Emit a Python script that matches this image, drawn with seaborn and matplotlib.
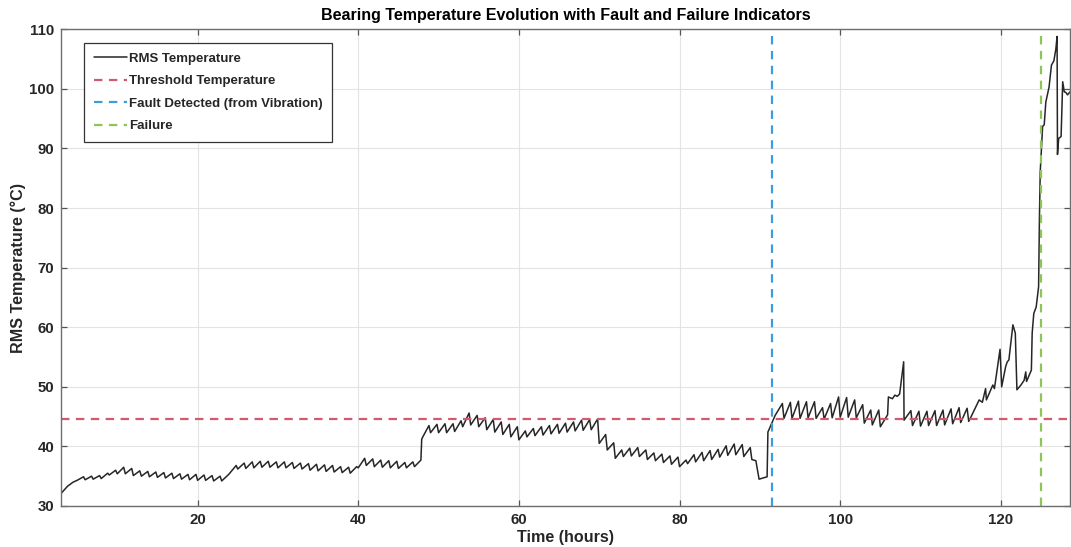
import matplotlib
matplotlib.use("Agg")
import matplotlib.pyplot as plt
import seaborn as sns
import pandas as pd

# ---------------- data ----------------
time_h = [
    3.0, 3.8, 4.5, 5.0, 5.8, 6.0, 6.8, 7.0, 7.8, 8.0, 8.8, 9.0, 9.8, 10.0, 10.8,
    11.0, 11.8, 12.0, 12.8, 13.0, 13.8, 14.0, 14.8, 15.0, 15.8, 16.0, 16.8, 17.0,
    17.8, 18.0, 18.8, 19.0, 19.8, 20.0, 20.8, 21.0, 21.8, 22.0, 22.8, 23.0, 23.8,
    24.0, 24.8, 25.0, 25.8, 26.0, 26.8, 27.0, 27.8, 28.0, 28.8, 29.0, 29.8, 30.0,
    30.8, 31.0, 31.8, 32.0, 32.8, 33.0, 33.8, 34.0, 34.8, 35.0, 35.8, 36.0, 36.8,
    37.0, 37.8, 38.0, 38.8, 39.0, 39.8, 40.0, 40.8, 41.0, 41.8, 42.0, 42.8, 43.0,
    43.8, 44.0, 44.8, 45.0, 45.8, 46.0, 46.8, 47.0, 47.8, 47.9, 48.0, 48.8, 49.0,
    49.8, 50.0, 50.8, 51.0, 51.8, 52.0, 52.8, 53.0, 53.8, 54.0, 54.8, 55.0, 55.8,
    56.0, 56.8, 57.0, 57.8, 58.0, 58.8, 59.0, 59.8, 60.0, 60.8, 61.0, 61.8, 62.0,
    62.8, 63.0, 63.8, 64.0, 64.8, 65.0, 65.8, 66.0, 66.8, 67.0, 67.8, 68.0, 68.8,
    69.0, 69.8, 70.0, 70.8, 71.0, 71.8, 72.0, 72.8, 73.0, 73.8, 74.0, 74.8, 75.0,
    75.8, 76.0, 76.8, 77.0, 77.8, 78.0, 78.8, 79.0, 79.8, 80.0, 80.8, 81.0, 81.8,
    82.0, 82.8, 83.0, 83.8, 84.0, 84.8, 85.0, 85.8, 86.0, 86.8, 87.0, 87.8, 88.0,
    88.8, 89.0, 89.5, 89.9, 90.9, 91.0, 91.9, 92.8, 93.0, 93.8, 94.0, 94.8, 95.0,
    95.8, 96.0, 96.8, 97.0, 97.8, 98.0, 98.8, 99.0, 99.8, 100.0, 100.8, 101.0,
    101.8, 102.0, 102.8, 103.0, 103.8, 104.0, 104.8, 105.0, 105.9, 106.0, 106.5,
    106.8, 107.1, 107.4, 107.9, 107.95, 108.8, 109.0, 109.8, 110.0, 110.8, 111.0,
    111.8, 112.0, 112.8, 113.0, 113.8, 114.0, 114.8, 115.0, 115.8, 116.0, 116.3,
    117.3, 117.7, 118.1, 118.2, 119.0, 119.2, 119.9, 120.1, 120.6, 120.8, 121.0,
    121.5, 121.8, 122.0, 122.5, 122.9, 123.1, 123.2, 123.8, 123.9, 124.1, 124.4,
    124.7, 124.8, 124.9, 125.0, 125.2, 125.4, 125.6, 126.0, 126.3, 126.6, 126.85,
    127.0, 127.05, 127.2, 127.5, 127.7, 127.9, 128.1, 128.3, 128.6,
]
temp_c = [
    32.1, 33.3, 34.0, 34.3, 34.9, 34.4, 35.0, 34.5, 35.1, 34.6, 35.5, 35.2, 36.0, 35.4, 36.5,
    35.4, 36.3, 35.1, 35.9, 35.0, 35.8, 34.9, 35.7, 34.8, 35.6, 34.7, 35.5, 34.6,
    35.4, 34.5, 35.3, 34.4, 35.3, 34.3, 35.2, 34.3, 35.1, 34.2, 35.0, 34.2, 35.2,
    35.5, 36.8, 36.2, 37.2, 36.3, 37.4, 36.4, 37.5, 36.5, 37.5, 36.5, 37.4, 36.4,
    37.4, 36.4, 37.3, 36.3, 37.2, 36.2, 37.1, 36.0, 37.0, 35.9, 36.9, 35.8, 36.8,
    35.7, 36.6, 35.6, 36.5, 35.5, 36.6, 36.4, 38.0, 36.8, 37.9, 36.6, 37.7, 36.5,
    37.6, 36.4, 37.5, 36.3, 37.3, 36.4, 37.4, 36.6, 37.7, 41.2, 41.5, 43.5, 42.3,
    43.7, 42.3, 43.8, 42.3, 43.8, 42.5, 44.3, 43.3, 45.6, 43.6, 45.2, 43.3, 44.8,
    42.8, 44.5, 42.4, 44.1, 42.0, 43.7, 41.6, 43.3, 41.1, 42.6, 41.6, 43.0, 41.8,
    43.3, 41.9, 43.5, 42.1, 43.7, 42.2, 43.9, 42.4, 44.1, 42.6, 44.4, 42.7, 44.5,
    42.8, 44.6, 40.5, 42.0, 39.4, 40.6, 38.0, 39.4, 38.3, 39.7, 38.4, 39.8, 38.3,
    39.4, 37.8, 38.9, 37.6, 38.7, 37.3, 38.4, 37.0, 38.2, 36.6, 37.7, 37.1, 38.6,
    37.4, 39.0, 37.6, 39.3, 37.8, 39.5, 38.2, 40.1, 38.5, 40.4, 38.6, 40.3, 38.3,
    39.8, 37.8, 37.6, 34.5, 34.9, 42.4, 45.2, 47.2, 44.7, 47.4, 44.7, 47.6, 44.7,
    47.5, 44.8, 47.5, 44.7, 46.5, 44.6, 47.2, 44.8, 48.3, 44.9, 48.2, 44.9,
    47.8, 44.8, 47.0, 43.9, 46.1, 43.6, 46.1, 43.3, 45.3, 48.3, 48.0,
    48.6, 48.4, 48.8, 54.2, 44.4, 46.0, 43.5, 45.9, 43.4, 45.9, 43.5,
    46.0, 43.5, 46.1, 43.6, 46.3, 43.8, 46.5, 44.0, 46.4, 44.2, 45.0,
    47.8, 47.4, 49.7, 47.8, 50.3, 49.7, 56.3, 50.0, 53.4, 54.2, 54.5,
    60.4, 59.0, 49.5, 50.3, 51.1, 52.5, 50.9, 52.8, 59.0, 62.3, 63.4,
    66.8, 78.0, 86.0, 88.5, 93.7, 94.0, 97.8, 100.3, 104.0, 104.7, 106.7,
    108.8, 89.0, 91.7, 92.0, 101.2, 99.5, 99.4, 99.0, 99.5,
]
threshold_temp = 44.6
fault_time = 91.5
failure_time = 125.0

x_ticks = [20, 40, 60, 80, 100, 120]
y_ticks = [30, 40, 50, 60, 70, 80, 90, 100, 110]

labels = ["RMS Temperature", "Threshold Temperature",
          "Fault Detected (from Vibration)", "Failure"]

# ---------------- styling ----------------
sns.set_theme(style="whitegrid")
plt.rcParams["font.family"] = ["Liberation Sans", "DejaVu Sans"]
plt.rcParams["font.weight"] = "bold"

df = pd.DataFrame({"Time": time_h, "Temp": temp_c})

fig = plt.figure(figsize=(10.71, 5.47), dpi=100)
ax = fig.add_axes([0.057, 0.075, 0.942, 0.8714])
ax.set_facecolor("white")

sns.lineplot(data=df, x="Time", y="Temp", ax=ax, color="#262626", lw=1.1,
             estimator=None, sort=False, label=labels[0])
ax.axhline(threshold_temp, color="#d05a6e", lw=1.6, dashes=(3.8, 2.9), label=labels[1])
ax.axvline(fault_time, color="#3d9be0", lw=1.6, dashes=(3.8, 2.9), label=labels[2])
ax.axvline(failure_time, color="#8fc45a", lw=1.6, dashes=(3.8, 2.9), label=labels[3])

ax.set_xlim(3.0, 128.6)
ax.set_ylim(30, 110)
ax.set_xticks(x_ticks)
ax.set_yticks(y_ticks)

ax.grid(True, color="#e3e3e3", lw=0.8)
for s in ax.spines.values():
    s.set_visible(True)
    s.set_color("#6e6e6e")
    s.set_linewidth(1.0)

ax.tick_params(axis="both", which="both", direction="in", length=4.5, width=0.9,
               color="#555555", top=True, right=True, bottom=True, left=True,
               labelsize=10.8, labelcolor="#262626", pad=5)
for lab in ax.get_xticklabels() + ax.get_yticklabels():
    lab.set_fontweight("bold")

ax.set_xlabel("Time (hours)", fontsize=11.6, fontweight="bold", color="#262626", labelpad=2)
ax.set_ylabel("RMS Temperature (°C)", fontsize=11.6, fontweight="bold", color="#262626", labelpad=2)
ax.set_title("Bearing Temperature Evolution with Fault and Failure Indicators",
             fontsize=11.5, fontweight="bold", color="#000000", pad=7)

leg = ax.legend(loc="upper left", bbox_to_anchor=(0.0228, 0.971), borderaxespad=0,
                frameon=True, fancybox=False, shadow=False, framealpha=1,
                edgecolor="#333333", handlelength=2.5,
                handletextpad=0.2, labelspacing=0.78, borderpad=0.72,
                prop={"weight": "bold", "size": 9.5})
leg.get_frame().set_linewidth(0.9)

fig.savefig("out.png", dpi=100, facecolor="white")
